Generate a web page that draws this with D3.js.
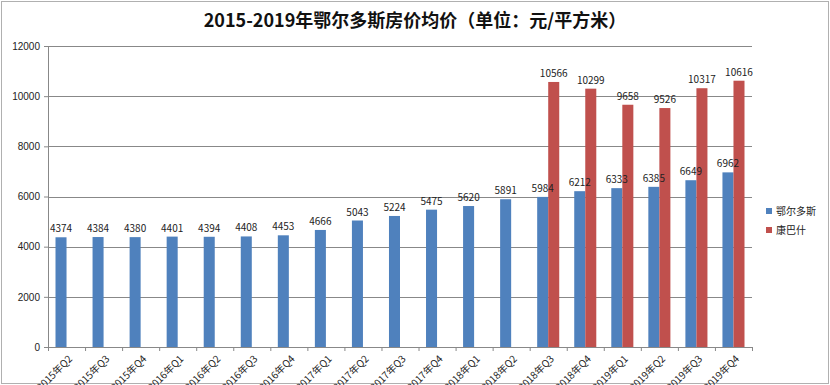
<!DOCTYPE html>
<html lang="zh">
<head>
  <meta charset="UTF-8">
  <title>鄂尔多斯房价均价</title>
  <style>
    body { margin: 0; background: #fff; }
    svg { display: block; font-family: "Noto Sans CJK SC", "Noto Sans", sans-serif; }
  </style>
</head>
<body>
  <svg id="chart"></svg>

  <script src="https://d3js.org/d3.v7.min.js"></script>
  <script>
    var categories = ['2015年Q2', '2015年Q3', '2015年Q4', '2016年Q1', '2016年Q2', '2016年Q3', '2016年Q4',
      '2017年Q1', '2017年Q2', '2017年Q3', '2017年Q4', '2018年Q1', '2018年Q2', '2018年Q3', '2018年Q4',
      '2019年Q1', '2019年Q2', '2019年Q3', '2019年Q4'];
    var seriesNames = ['鄂尔多斯', '康巴什'];
    var ordosValues = [4374, 4384, 4380, 4401, 4394, 4408, 4453, 4666, 5043, 5224, 5475, 5620, 5891,
      5984, 6212, 6333, 6385, 6649, 6962];
    var kangbashiValues = [null, null, null, null, null, null, null, null, null, null, null, null, null,
      10566, 10299, 9658, 9526, 10317, 10616];
    var yTicks = [0, 2000, 4000, 6000, 8000, 10000, 12000];

    var width = 830, height = 385;
    var margin = { top: 46, right: 78, bottom: 38, left: 48 };

    var svg = d3.select('#chart')
      .attr('width', width)
      .attr('height', height);

    // 外框
    svg.append('rect')
      .attr('x', 1.5).attr('y', 1.5)
      .attr('width', width - 3).attr('height', height - 3)
      .attr('fill', '#fff')
      .attr('stroke', '#b0b0b0');

    var plotW = width - margin.left - margin.right;
    var plotH = height - margin.top - margin.bottom;

    var x = d3.scaleBand().domain(categories).range([0, plotW]);
    var x1 = d3.scaleBand().domain(seriesNames).range([0, x.bandwidth()]).paddingInner(0).paddingOuter(0.68);
    var y = d3.scaleLinear().domain([0, 12000]).range([plotH, 0]);
    var color = d3.scaleOrdinal().domain(seriesNames).range(['#4f81bd', '#c0504d']);

    var g = svg.append('g').attr('transform', 'translate(' + margin.left + ',' + margin.top + ')');

    // 网格线
    g.selectAll('line.grid')
      .data(yTicks.slice(1))
      .enter()
      .append('line')
      .attr('class', 'grid')
      .attr('x1', 0).attr('x2', plotW)
      .attr('y1', function (d) { return Math.round(y(d)) + 0.5; })
      .attr('y2', function (d) { return Math.round(y(d)) + 0.5; })
      .attr('stroke', '#888')
      .attr('stroke-width', 1);

    // 扁平化数据
    var points = [];
    categories.forEach(function (c, i) {
      [ordosValues[i], kangbashiValues[i]].forEach(function (v, k) {
        if (v != null) points.push({ cat: c, name: seriesNames[k], value: v });
      });
    });

    g.selectAll('rect.bar')
      .data(points)
      .enter()
      .append('rect')
      .attr('class', 'bar')
      .attr('x', function (d) { return x(d.cat) + x1(d.name); })
      .attr('width', x1.bandwidth())
      .attr('y', function (d) { return y(d.value); })
      .attr('height', function (d) { return plotH - y(d.value); })
      .attr('fill', function (d) { return color(d.name); });

    // 数据标签（画在柱子之上）
    g.selectAll('text.label')
      .data(points)
      .enter()
      .append('text')
      .attr('class', 'label')
      .attr('x', function (d) { return x(d.cat) + x1(d.name) + x1.bandwidth() / 2; })
      .attr('y', function (d) { return y(d.value) - 5; })
      .attr('text-anchor', 'middle')
      .attr('font-size', 10)
      .attr('fill', '#222')
      .text(function (d) { return d.value; });

    // Y 轴
    var axisY = d3.axisLeft(y).tickValues(yTicks).tickFormat(d3.format('d')).tickSize(4).tickPadding(4);
    var gy = g.append('g').call(axisY);
    gy.select('.domain').attr('stroke', '#888');
    gy.selectAll('line').attr('stroke', '#888');
    gy.selectAll('text').attr('font-size', 10).attr('fill', '#222');

    // X 轴
    var gx = g.append('g').attr('transform', 'translate(0,' + plotH + ')');
    gx.append('line')
      .attr('x1', 0).attr('x2', plotW)
      .attr('y1', 0.5).attr('y2', 0.5)
      .attr('stroke', '#888');
    gx.selectAll('line.tick')
      .data(categories.concat(['end']))
      .enter()
      .append('line')
      .attr('x1', function (d, i) { return i * x.step() + 0.5; })
      .attr('x2', function (d, i) { return i * x.step() + 0.5; })
      .attr('y1', 0).attr('y2', 4)
      .attr('stroke', '#888');
    gx.selectAll('text')
      .data(categories)
      .enter()
      .append('text')
      .attr('transform', function (d) {
        return 'translate(' + (x(d) + x.bandwidth() / 2 + 4) + ',10) rotate(-45)';
      })
      .attr('text-anchor', 'end')
      .attr('dy', '0.35em')
      .attr('font-size', 10)
      .attr('fill', '#222')
      .text(function (d) { return d; });

    // 标题
    svg.append('text')
      .attr('x', 415).attr('y', 27)
      .attr('text-anchor', 'middle')
      .attr('font-size', 18)
      .attr('font-weight', 'bold')
      .attr('fill', '#111')
      .text('2015-2019年鄂尔多斯房价均价（单位：元/平方米）');

    // 图例
    var legend = svg.append('g').attr('transform', 'translate(766,208)');
    var li = legend.selectAll('g')
      .data(seriesNames)
      .enter()
      .append('g')
      .attr('transform', function (d, i) { return 'translate(0,' + i * 19 + ')'; });
    li.append('rect')
      .attr('width', 6).attr('height', 6)
      .attr('fill', function (d) { return color(d); });
    li.append('text')
      .attr('x', 10).attr('y', 3)
      .attr('dy', '0.35em')
      .attr('font-size', 10)
      .attr('fill', '#222')
      .text(function (d) { return d; });
  </script>
</body>
</html>
